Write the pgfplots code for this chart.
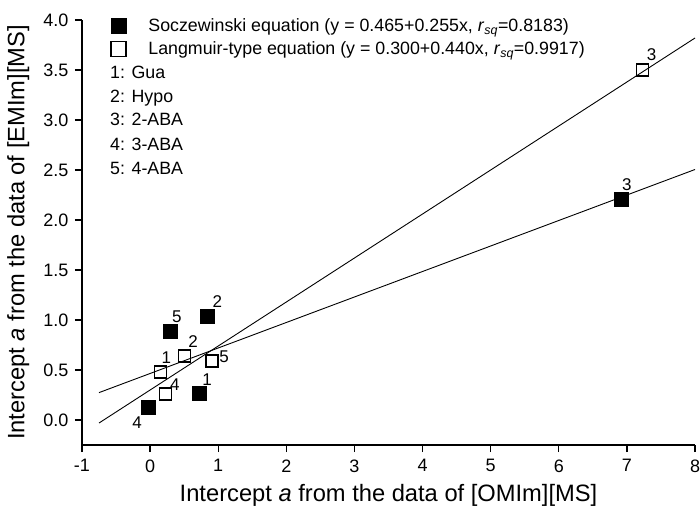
\documentclass[border=0pt]{standalone}
\usepackage{fontspec}
\setmainfont{Liberation Sans}
\usepackage{pgfplots}
\pgfplotsset{compat=1.18}
\usetikzlibrary{calc}

\newcommand{\rsq}{\textit{r}\textsubscript{\textit{sq}}}

\begin{document}
\begin{tikzpicture}
\begin{axis}[
  scale only axis, width=613bp, height=425bp,
  xmin=-1, xmax=8, ymin=-0.25, ymax=4.0,
  axis x line*=bottom, axis y line*=left,
  axis line style={-, line width=1.3bp},
  tick style={line width=1.3bp, black},
  major tick length=7bp, tick align=outside,
  xtick={-1,0,...,8}, ytick={0,0.5,...,4.0},
  /pgf/number format/assume math mode=true,
  ticklabel style={font=\fontsize{18bp}{20bp}\selectfont},
  xticklabel style={yshift=-4bp},
  yticklabel style={xshift=-3bp, /pgf/number format/.cd, fixed, fixed zerofill, precision=1},
  xlabel={Intercept \textit{a} from the data of [OMIm][MS]},
  ylabel={Intercept \textit{a} from the data of [EMIm][MS]},
  label style={font=\fontsize{23.7bp}{26bp}\selectfont},
  xlabel style={at={(axis description cs:0.5,-0.118)}, anchor=center},
  ylabel style={at={(axis description cs:-0.104,0.5)}, anchor=center},
  legend cell align=left,
  legend style={draw=none, fill=none, inner sep=0pt,
    at={(axis description cs:0.046,1.006)}, anchor=north west,
    font=\fontsize{17.8bp}{19bp}\selectfont,
    row sep=7bp,
    nodes={inner sep=1bp}},
  legend image code/.code={%
    \path[draw=none] (-8bp,0bp) -- (29bp,0bp);
    \draw[mark size=7.5bp] plot coordinates {(0bp,0bp)};},
  clip=false,
]
% fitted lines
\addplot[black, line width=0.9bp, forget plot] coordinates {(-0.75,0.274) (8,2.505)};
\addplot[black, line width=0.9bp, forget plot] coordinates {(-0.75,-0.030) (8,3.820)};

% Soczewinski equation
\addplot[only marks, mark=square*, mark size=7bp, black, mark options={fill=black}]
  coordinates {(0.72,0.27) (0.84,1.04) (6.91,2.21) (-0.03,0.13) (0.29,0.89)};
\addlegendentry{Soczewinski equation (y = 0.465+0.255x, \rsq=0.8183)}

% Langmuir-type equation
\addplot[only marks, mark=square, mark size=6bp, black, line width=1.2bp]
  coordinates {(0.15,0.48) (0.50,0.64) (7.23,3.50) (0.23,0.26) (0.91,0.59)};
\addlegendentry{Langmuir-type equation (y = 0.300+0.440x, \rsq=0.9917)}

% compound key
\begin{scope}[every node/.style={anchor=base west, inner sep=0pt, font=\fontsize{17.8bp}{19bp}\selectfont}]
\node at (axis description cs:0.0457,0.8635) {1: Gua};
\node at (axis description cs:0.0457,0.8070) {2: Hypo};
\node at (axis description cs:0.0457,0.7506) {3: 2-ABA};
\node at (axis description cs:0.0457,0.6941) {4: 3-ABA};
\node at (axis description cs:0.0457,0.6376) {5: 4-ABA};
\end{scope}

% point numbers
\begin{scope}[every node/.style={inner sep=0pt, font=\fontsize{17bp}{19bp}\selectfont}]
\node[xshift=6bp, yshift=14bp] at (axis cs:6.91,2.21) {3};
\node[xshift=9bp, yshift=15bp] at (axis cs:7.23,3.50) {3};
\node[xshift=10bp, yshift=14bp] at (axis cs:0.84,1.04) {2};
\node[xshift=7bp, yshift=14bp] at (axis cs:0.29,0.89) {5};
\node[xshift=8bp, yshift=13bp] at (axis cs:0.72,0.27) {1};
\node[xshift=-11bp, yshift=-16bp] at (axis cs:-0.03,0.13) {4};
\node[xshift=9bp, yshift=14bp] at (axis cs:0.50,0.64) {2};
\node[xshift=12bp, yshift=4bp] at (axis cs:0.91,0.59) {5};
\node[xshift=6bp, yshift=14bp] at (axis cs:0.15,0.48) {1};
\node[xshift=9bp, yshift=9bp] at (axis cs:0.23,0.26) {4};
\end{scope}
\end{axis}
\pgfresetboundingbox
\path[use as bounding box] ($(current axis.south west)+(-82bp,-69bp)$) rectangle ($(current axis.north east)+(5bp,20bp)$);
\end{tikzpicture}
\end{document}
